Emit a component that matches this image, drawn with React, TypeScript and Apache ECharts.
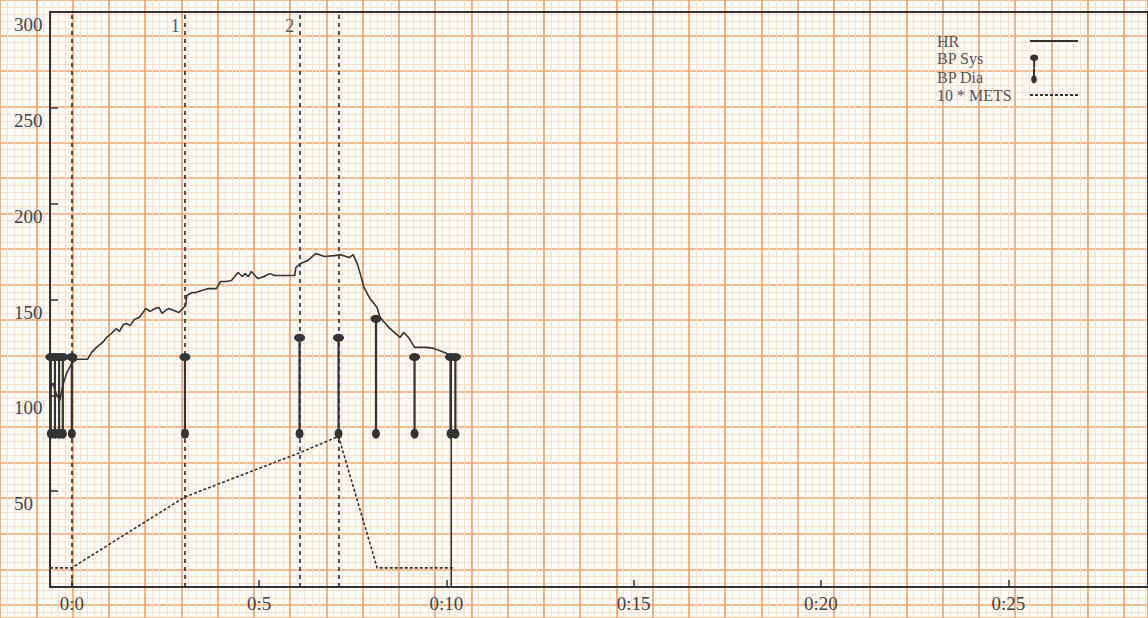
import React, { useEffect, useRef } from 'react';
import * as echarts from 'echarts';

// ---- data ----
const xTickMinutes = [0, 5, 10, 15, 20, 25];
const stageTimes = [0, 3.02, 6.08, 7.12];
const stageLabels = ['', '1', '2', ''];

const hrTimes = [-0.58, -0.5, -0.42, -0.32, -0.24, -0.13, 0, 0.13, 0.42, 0.53, 0.66, 0.82, 0.93, 1.06, 1.19, 1.27, 1.38, 1.46, 1.56, 1.67, 1.8, 1.9, 1.98, 2.09, 2.22, 2.33, 2.41, 2.51, 2.59, 2.72, 2.86, 2.99, 3.04, 3.07, 3.2, 3.31, 3.47, 3.65, 3.86, 3.97, 4.13, 4.26, 4.44, 4.55, 4.63, 4.71, 4.79, 4.89, 4.97, 5.13, 5.29, 5.42, 5.95, 5.98, 6.11, 6.3, 6.51, 6.61, 6.75, 7.01, 7.17, 7.41, 7.51, 7.62, 7.7, 7.8, 7.96, 8.15, 8.23, 8.49, 8.76, 8.86, 8.99, 9.15, 9.47, 9.66, 10.0, 10.13, 10.13];
const hrValues = [103.6, 106.3, 101.0, 97.4, 105.2, 112.0, 116.7, 118.8, 118.8, 122.4, 125.0, 127.6, 130.2, 132.3, 134.9, 133.3, 137.0, 137.5, 136.5, 139.6, 140.6, 143.2, 145.3, 143.8, 145.3, 145.8, 142.7, 144.3, 145.3, 144.3, 143.2, 145.8, 146.9, 152.1, 153.6, 153.6, 154.7, 155.7, 155.7, 159.4, 159.4, 159.9, 164.1, 162.0, 163.5, 162.0, 164.6, 162.5, 160.9, 162.0, 163.5, 162.5, 162.5, 166.7, 168.8, 170.3, 174.0, 173.4, 172.4, 172.9, 173.4, 171.9, 173.4, 168.8, 163.5, 156.3, 150.5, 145.8, 140.6, 134.9, 130.2, 132.8, 130.2, 125.0, 125.0, 124.5, 121.9, 120.3, 0];

const bpTimes = [-0.56, -0.45, -0.34, -0.24, 0, 3.02, 6.08, 7.12, 8.12, 9.15, 10.11, 10.24];
const bpSys = [120, 120, 120, 120, 120, 120, 130, 130, 140, 120, 120, 120];
const bpDia = [80, 80, 80, 80, 80, 80, 80, 80, 80, 80, 80, 80];

const metsTimes = [-0.58, 0, 3.02, 6.08, 7.12, 8.15, 10.19];
const metsValues = [10, 10, 47, 70, 78.6, 10, 10];

// ---- styling ----
const INK = '#333333';
const SERIF = '"Liberation Serif", "DejaVu Serif", serif';
const PAPER_MAJOR = '#f5a36e';
const PAPER_MINOR = '#fcdcc6';

function ellipsePath(cx: number, cy: number, rx: number, ry: number) {
  const k = 0.5523;
  return (
    `M${cx - rx} ${cy} ` +
    `C${cx - rx} ${cy - k * ry} ${cx - k * rx} ${cy - ry} ${cx} ${cy - ry} ` +
    `C${cx + k * rx} ${cy - ry} ${cx + rx} ${cy - k * ry} ${cx + rx} ${cy} ` +
    `C${cx + rx} ${cy + k * ry} ${cx + k * rx} ${cy + ry} ${cx} ${cy + ry} ` +
    `C${cx - k * rx} ${cy + ry} ${cx - rx} ${cy + k * ry} ${cx - rx} ${cy} Z`
  );
}

// legend icons: 48 x 18 boxes, marker at the left
const sysIcon =
  'path://M0 0 M48 18 ' + ellipsePath(4, 8, 4.2, 3.2) + ' M3 10.5 L5 10.5 L5 18 L3 18 Z';
const diaIcon =
  'path://M0 0 M48 18 ' + ellipsePath(4, 11, 2.8, 4.2) + ' M3 0 L5 0 L5 7.5 L3 7.5 Z';

export default function App() {
  const ref = useRef<HTMLDivElement>(null);

  useEffect(() => {
    if (!ref.current) return;
    const chart = echarts.init(ref.current, undefined, { renderer: 'svg' });

    const hrData = hrTimes.map((t, i) => [t, hrValues[i]]);
    const metsData = metsTimes.map((t, i) => [t, metsValues[i]]);
    const bpRange = bpTimes.map((t, i) => [t, bpSys[i], bpDia[i]]);
    const sysData = bpTimes.map((t, i) => [t, bpSys[i]]);
    const diaData = bpTimes.map((t, i) => [t, bpDia[i]]);
    const stageData = stageTimes.map((t, i) => [t, 292.7, stageLabels[i]]);

    chart.setOption({
      animation: false,
      backgroundColor: '#fffdfa',
      grid: [
        {
          left: 50,
          top: 12,
          right: -10,
          bottom: 31,
          show: true,
          borderColor: INK,
          borderWidth: 2,
          z: 1,
        },
        { left: -7.4, top: -18, width: 1200, height: 660, show: false, z: 0 },
      ],
      xAxis: [
        {
          type: 'value',
          gridIndex: 0,
          min: -0.582,
          max: 28.73,
          z: 2,
          axisLine: { show: true, onZero: false, lineStyle: { color: INK, width: 2 } },
          axisTick: {
            show: true,
            inside: true,
            length: 7,
            customValues: xTickMinutes,
            lineStyle: { color: INK, width: 1.5 },
          },
          axisLabel: {
            customValues: xTickMinutes,
            formatter: (v: number) => `0:${v}`,
            fontFamily: SERIF,
            fontSize: 19,
            color: '#444',
            margin: 7,
          },
          splitLine: { show: false },
        },
        {
          type: 'value',
          gridIndex: 1,
          min: 0,
          max: 1200,
          interval: 37.9,
          z: 0,
          axisLine: { show: false, onZero: false },
          axisTick: { show: false },
          axisLabel: { show: false },
          splitLine: { show: true, lineStyle: { color: PAPER_MAJOR, width: 1.7 } },
          minorTick: { show: false, splitNumber: 5 },
          minorSplitLine: { show: true, lineStyle: { color: PAPER_MINOR, width: 0.9 } },
        },
      ],
      yAxis: [
        {
          type: 'value',
          gridIndex: 0,
          min: 0,
          max: 300,
          interval: 50,
          z: 2,
          axisLine: { show: true, onZero: false, lineStyle: { color: INK, width: 2 } },
          axisTick: { show: true, inside: true, length: 8, lineStyle: { color: INK, width: 1.5 } },
          axisLabel: {
            showMinLabel: false,
            fontFamily: SERIF,
            fontSize: 19,
            color: '#444',
            align: 'left',
            verticalAlign: 'top',
            margin: 36,
            padding: [3, 0, 0, 0],
          },
          splitLine: { show: false },
        },
        {
          type: 'value',
          gridIndex: 1,
          min: 0,
          max: 660,
          interval: 38,
          inverse: true,
          z: 0,
          axisLine: { show: false, onZero: false },
          axisTick: { show: false },
          axisLabel: { show: false },
          splitLine: { show: true, lineStyle: { color: PAPER_MAJOR, width: 1.7 } },
          minorTick: { show: false, splitNumber: 5 },
          minorSplitLine: { show: true, lineStyle: { color: PAPER_MINOR, width: 0.9 } },
        },
      ],
      legend: {
        orient: 'vertical',
        left: 937,
        top: 33,
        padding: 0,
        align: 'right',
        itemWidth: 48,
        itemHeight: 18,
        itemGap: 0.7,
        selectedMode: false,
        formatter: (name: string) => `{n|${name}}`,
        textStyle: {
          fontFamily: SERIF,
          fontSize: 16,
          color: '#555',
          rich: {
            n: { width: 88, align: 'left', fontFamily: SERIF, fontSize: 16, color: '#555' },
          },
        },
        data: [
          { name: 'HR', itemStyle: { opacity: 0 } },
          { name: 'BP Sys', icon: sysIcon },
          { name: 'BP Dia', icon: diaIcon },
          { name: '10 * METS', itemStyle: { opacity: 0 } },
        ],
      },
      series: [
        {
          name: 'HR',
          type: 'line',
          xAxisIndex: 0,
          yAxisIndex: 0,
          data: hrData,
          symbol: 'none',
          lineStyle: { color: INK, width: 1.6 },
          itemStyle: { color: INK },
          z: 4,
          silent: true,
          markLine: {
            silent: true,
            symbol: ['none', 'none'],
            label: { show: false },
            lineStyle: { color: INK, width: 1.7, type: [4, 4] },
            data: stageTimes.map((t) => ({ xAxis: t })),
          },
        },
        {
          name: '10 * METS',
          type: 'line',
          xAxisIndex: 0,
          yAxisIndex: 0,
          data: metsData,
          symbol: 'none',
          lineStyle: { color: INK, width: 1.6, type: [3, 2] },
          itemStyle: { color: INK },
          z: 3,
          silent: true,
        },
        {
          name: 'BP range',
          type: 'custom',
          xAxisIndex: 0,
          yAxisIndex: 0,
          data: bpRange,
          encode: { x: 0, y: [1, 2] },
          silent: true,
          z: 3,
          renderItem: (params: any, api: any) => {
            const top = api.coord([api.value(0), api.value(1)]);
            const bot = api.coord([api.value(0), api.value(2)]);
            return {
              type: 'line',
              shape: { x1: top[0], y1: top[1], x2: bot[0], y2: bot[1] },
              style: { stroke: INK, lineWidth: 2.2 },
            };
          },
        },
        {
          name: 'BP Sys',
          type: 'scatter',
          xAxisIndex: 0,
          yAxisIndex: 0,
          data: sysData,
          symbol: 'circle',
          symbolSize: [11, 8],
          itemStyle: { color: INK, opacity: 1 },
          z: 5,
          silent: true,
        },
        {
          name: 'BP Dia',
          type: 'scatter',
          xAxisIndex: 0,
          yAxisIndex: 0,
          data: diaData,
          symbol: 'circle',
          symbolSize: [8, 10],
          itemStyle: { color: INK, opacity: 1 },
          z: 5,
          silent: true,
        },
        {
          name: 'stages',
          type: 'scatter',
          xAxisIndex: 0,
          yAxisIndex: 0,
          data: stageData,
          symbolSize: 0,
          silent: true,
          label: {
            show: true,
            position: 'left',
            distance: 5,
            formatter: (p: any) => p.value[2],
            fontFamily: SERIF,
            fontSize: 19,
            color: INK,
          },
        },
      ],
    });

    return () => chart.dispose();
  }, []);

  return (
    <div
      ref={ref}
      style={{ position: 'absolute', left: 0, top: 0, width: 1148, height: 618 }}
    />
  );
}
